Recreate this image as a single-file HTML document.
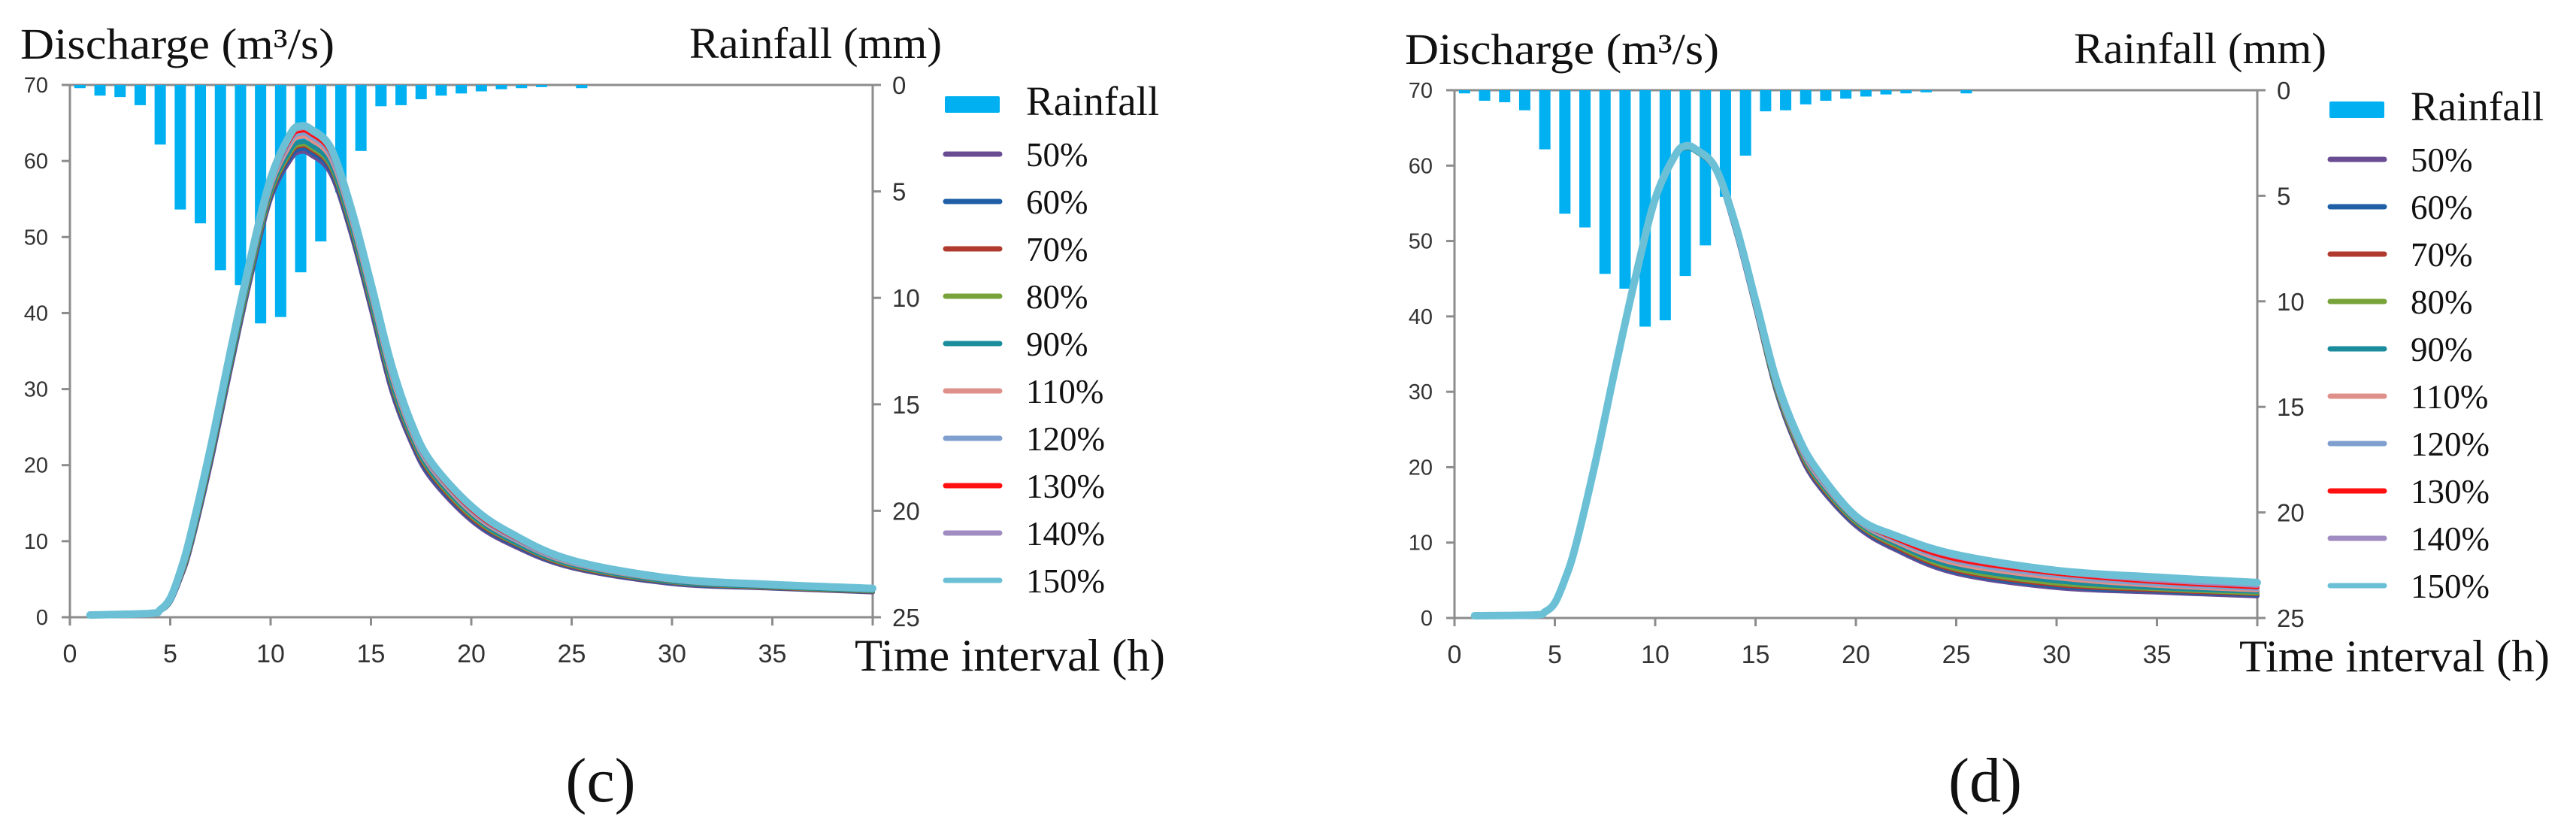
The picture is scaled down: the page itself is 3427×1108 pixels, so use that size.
<!DOCTYPE html>
<html><head><meta charset="utf-8">
<style>
html,body{margin:0;padding:0;background:#fff;}
svg{display:block;}
text{font-family:"Liberation Serif",serif;fill:#111;}
.tick{font-family:"Liberation Sans",sans-serif;fill:#333;}
</style></head>
<body>
<svg id="fig" width="3427" height="1108" viewBox="0 0 3427 1108" xmlns="http://www.w3.org/2000/svg"></svg>
<script>
const times = [1,4,4.5,5,5.5,6,7,8,9,10,11,11.5,12,13,14,15,16,17,18,20,22,25,30,35,40];
const rainfall = [0.15,0.5,0.57,0.95,2.8,5.85,6.5,8.7,9.4,11.2,10.9,8.8,7.35,5.05,3.1,1.0,0.95,0.67,0.5,0.4,0.3,0.2,0.15,0.1,0,0.15];
const seriesLabels = ["50%","60%","70%","80%","90%","110%","120%","130%","140%","150%"];
const xTicks = [0,5,10,15,20,25,30,35];
const yTicks = [0,10,20,30,40,50,60,70];
const rainTicks = [0,5,10,15,20,25];
const c50 = [0.3,0.4,0.8,2,5,9,20,32.5,44.5,55,60.2,61.2,60.8,58.3,50.5,40.5,30,23,18.2,12.7,9.5,6.5,4.4,3.8,3.3];
const c60 = [0.3,0.4,0.8,2,5.1,9.2,20.3,32.8,44.8,55.3,60.6,61.6,61.2,58.7,50.9,40.9,30.4,23.3,18.5,12.9,9.7,6.6,4.5,3.85,3.35];
const c70 = [0.3,0.4,0.8,2.1,5.2,9.4,20.6,33.1,45.1,55.6,61,62,61.6,59.1,51.3,41.3,30.8,23.6,18.8,13.1,9.9,6.7,4.6,3.9,3.4];
const c80 = [0.3,0.4,0.8,2.1,5.3,9.5,20.8,33.3,45.3,55.8,61.2,62.2,61.8,59.3,51.5,41.5,31,23.8,19,13.3,10,6.8,4.65,3.95,3.45];
const c90 = [0.3,0.4,0.9,2.2,5.4,9.7,21,33.5,45.6,56.1,61.5,62.5,62.1,59.6,51.8,41.8,31.3,24,19.2,13.5,10.1,6.9,4.7,4,3.5];
const c110 = [0.3,0.4,0.9,2.3,5.6,10,21.4,34,46.1,56.6,62.2,63.2,62.8,60.3,52.5,42.5,32,24.5,19.6,13.8,10.4,7.1,4.85,4.1,3.6];
const c120 = [0.3,0.4,0.9,2.3,5.7,10.2,21.6,34.3,46.4,56.9,62.6,63.6,63.2,60.7,52.9,42.9,32.4,24.8,19.8,14,10.5,7.2,4.9,4.15,3.65];
const c130 = [0.3,0.4,0.9,2.4,5.8,10.4,21.8,34.6,46.7,57.2,63,64,63.6,61.1,53.3,43.3,32.8,25.1,20,14.2,10.7,7.3,5,4.2,3.7];
const c140 = [0.3,0.4,0.9,2.4,5.9,10.5,22,34.8,47,57.5,63.3,64.3,63.9,61.4,53.6,43.6,33.1,25.3,20.2,14.4,10.8,7.4,5.05,4.25,3.75];
const c150 = [0.3,0.5,1,2.5,6,10.7,22.2,35,47.2,57.7,63.6,64.6,64.2,61.7,53.9,43.9,33.4,25.6,20.4,14.6,11,7.5,5.1,4.3,3.8];
const d50 = [0.3,0.4,0.8,2,5.1,9.2,20.4,33,45,55.6,61.3,62.3,61.9,59.3,51.3,41,30.3,23,18,12.2,9,5.9,4.0,3.4,2.9];
const d60 = [0.3,0.4,0.8,2,5.1,9.2,20.4,33,45,55.6,61.3,62.3,61.9,59.3,51.4,41.1,30.4,23.2,18.2,12.4,9.2,6.1,4.2,3.55,3.05];
const d70 = [0.3,0.4,0.8,2,5.1,9.2,20.4,33,45,55.6,61.3,62.3,61.9,59.4,51.5,41.2,30.6,23.4,18.4,12.6,9.4,6.3,4.4,3.7,3.2];
const d80 = [0.3,0.4,0.8,2,5.1,9.2,20.4,33,45,55.6,61.3,62.3,61.9,59.4,51.6,41.3,30.7,23.6,18.6,12.7,9.6,6.5,4.6,3.85,3.3];
const d90 = [0.3,0.4,0.8,2,5.1,9.2,20.4,33,45,55.6,61.3,62.3,61.9,59.5,51.7,41.5,30.9,23.8,18.8,12.9,9.8,6.8,4.9,4.0,3.5];
const d110 = [0.3,0.4,0.8,2,5.1,9.2,20.4,33,45,55.6,61.3,62.4,62,59.5,51.8,41.6,31.1,24,19.1,13.1,10.1,7.2,5.3,4.3,3.7];
const d120 = [0.3,0.4,0.8,2,5.1,9.2,20.4,33,45,55.6,61.3,62.4,62,59.6,51.9,41.7,31.3,24.2,19.3,13.2,10.3,7.5,5.6,4.5,3.9];
const d130 = [0.3,0.4,0.8,2,5.1,9.2,20.4,33,45,55.6,61.4,62.5,62.1,59.6,52,41.8,31.5,24.4,19.5,13.3,10.5,7.8,5.9,4.8,4.1];
const d140 = [0.3,0.4,0.8,2,5.1,9.2,20.4,33,45,55.6,61.4,62.5,62.1,59.7,52.1,42,31.7,24.6,19.7,13.4,10.7,8.1,6.1,5.0,4.3];
const d150 = [0.3,0.4,0.8,2,5.1,9.2,20.4,33,45,55.6,61.4,62.6,62.2,59.7,52.2,42.1,31.9,24.8,19.9,13.5,10.9,8.4,6.3,5.4,4.7];

const colors = ["#6a4c93","#1f5fa6","#b03a2e","#77a33a","#1a8c9c","#e0908a","#7f9fcf","#ff1010","#a08cc0","#6cc0d6"];
const NS = "http://www.w3.org/2000/svg";
const svg = document.getElementById("fig");
function mk(tag, attrs, parent, txt){
  const e = document.createElementNS(NS, tag);
  for (const k in attrs) e.setAttribute(k, attrs[k]);
  if (txt !== undefined) e.textContent = txt;
  (parent||svg).appendChild(e);
  return e;
}
function smoothPath(pts){
  let d = "M" + pts[0][0].toFixed(1) + "," + pts[0][1].toFixed(1);
  for (let i=0;i<pts.length-1;i++){
    const p0 = pts[Math.max(0,i-1)], p1 = pts[i], p2 = pts[i+1], p3 = pts[Math.min(pts.length-1,i+2)];
    const c1x = p1[0]+(p2[0]-p0[0])/6, c1y = p1[1]+(p2[1]-p0[1])/6;
    const c2x = p2[0]-(p3[0]-p1[0])/6, c2y = p2[1]-(p3[1]-p1[1])/6;
    d += " C"+c1x.toFixed(1)+","+c1y.toFixed(1)+" "+c2x.toFixed(1)+","+c2y.toFixed(1)+" "+p2[0].toFixed(1)+","+p2[1].toFixed(1);
  }
  return d;
}

function drawChart(dx, dy, Y1, Y0, series, letter, name){
  const g = mk("g", {transform:"translate("+dx+",0)"});
  
  
  const X0=93, X1=1161;
  const xS = t => X0 + t*(X1-X0)/40;
  const yS = v => Y0 - v*(Y0-Y1)/70;
  const rS = r => Y1 + r*(Y0-Y1)/25;

  let t = mk("text",{x:27,y:78+dy,"font-size":58,textLength:418,lengthAdjust:"spacingAndGlyphs"},g,"Discharge (m³/s)");
  
  
  t = mk("text",{x:917,y:77+dy,"font-size":58,textLength:336,lengthAdjust:"spacingAndGlyphs"},g,"Rainfall (mm)");
  
  
  t = mk("text",{x:1137,y:Y0+71,"font-size":60,textLength:413,lengthAdjust:"spacingAndGlyphs"},g,"Time interval (h)");
  
  
  t = mk("text",{x:799,y:1066,"font-size":84,"text-anchor":"middle"},g,"("+letter+")");
  
  

  const ax = mk("g",{stroke:"#8c8c8c","stroke-width":3,fill:"none"},g);
  
  
  mk("line",{x1:X0,y1:Y1,x2:X0,y2:Y0},ax);
  mk("line",{x1:X0,y1:Y0,x2:X1,y2:Y0},ax);
  mk("line",{x1:X0-10,y1:Y1,x2:X1,y2:Y1},ax);
  mk("line",{x1:X1,y1:Y1,x2:X1,y2:Y0},ax);
  yTicks.forEach(v=>{
    mk("line",{x1:X0-11,y1:yS(v),x2:X0,y2:yS(v)},ax);
    const l = mk("text",{x:64,y:yS(v)+10,"font-size":29,"text-anchor":"end",class:"tick"},g,String(v));
    
    
  });
  xTicks.forEach(v=>{
    mk("line",{x1:xS(v),y1:Y0,x2:xS(v),y2:Y0+11},ax);
    const l = mk("text",{x:xS(v),y:Y0+60,"font-size":34,"text-anchor":"middle",class:"tick"},g,String(v));
    
    
  });
  mk("line",{x1:X1,y1:Y0,x2:X1,y2:Y0+11},ax);
  rainTicks.forEach(v=>{
    mk("line",{x1:X1,y1:rS(v),x2:X1+11,y2:rS(v)},ax);
    const l = mk("text",{x:X1+26,y:rS(v)+12,"font-size":33,class:"tick"},g,String(v));
    
    
  });

  rainfall.forEach((r,i)=>{
    if (r<=0) return;
    const b = mk("rect",{x:xS(i+0.5)-7.5,y:Y1,width:15,height:rS(r)-Y1,fill:"#00b0f0"},g);
    
    
  });

  series.forEach((vals,si)=>{
    const pts = times.map((tt,k)=>[xS(tt), yS(vals[k])]);
    const p = mk("path",{d:smoothPath(pts),fill:"none",stroke:colors[si],"stroke-width":si===9?10:6,"stroke-linejoin":"round","stroke-linecap":"round"},g);
    
    
  });

  const lg = mk("g",{transform:"translate(0,"+dy+")"},g);
  
  
  const r0 = mk("rect",{x:1257,y:128,width:73,height:22,fill:"#00b0f0",rx:2},lg);
  
  
  const rt = mk("text",{x:1365,y:153,"font-size":55},lg,"Rainfall");
  
  
  seriesLabels.forEach((lab,i)=>{
    const y = 205 + 63*i;
    const ln = mk("line",{x1:1258,y1:y,x2:1330,y2:y,stroke:colors[i],"stroke-width":7,"stroke-linecap":"round"},lg);
    
    
    const tx = mk("text",{x:1365,y:y+16,"font-size":45},lg,lab);
    
    
  });
}

drawChart(0,0,113,821,[c50,c60,c70,c80,c90,c110,c120,c130,c140,c150],"c","chart-c");
drawChart(1842,7,120,822,[d50,d60,d70,d80,d90,d110,d120,d130,d140,d150],"d","chart-d");
</script>
</body></html>
